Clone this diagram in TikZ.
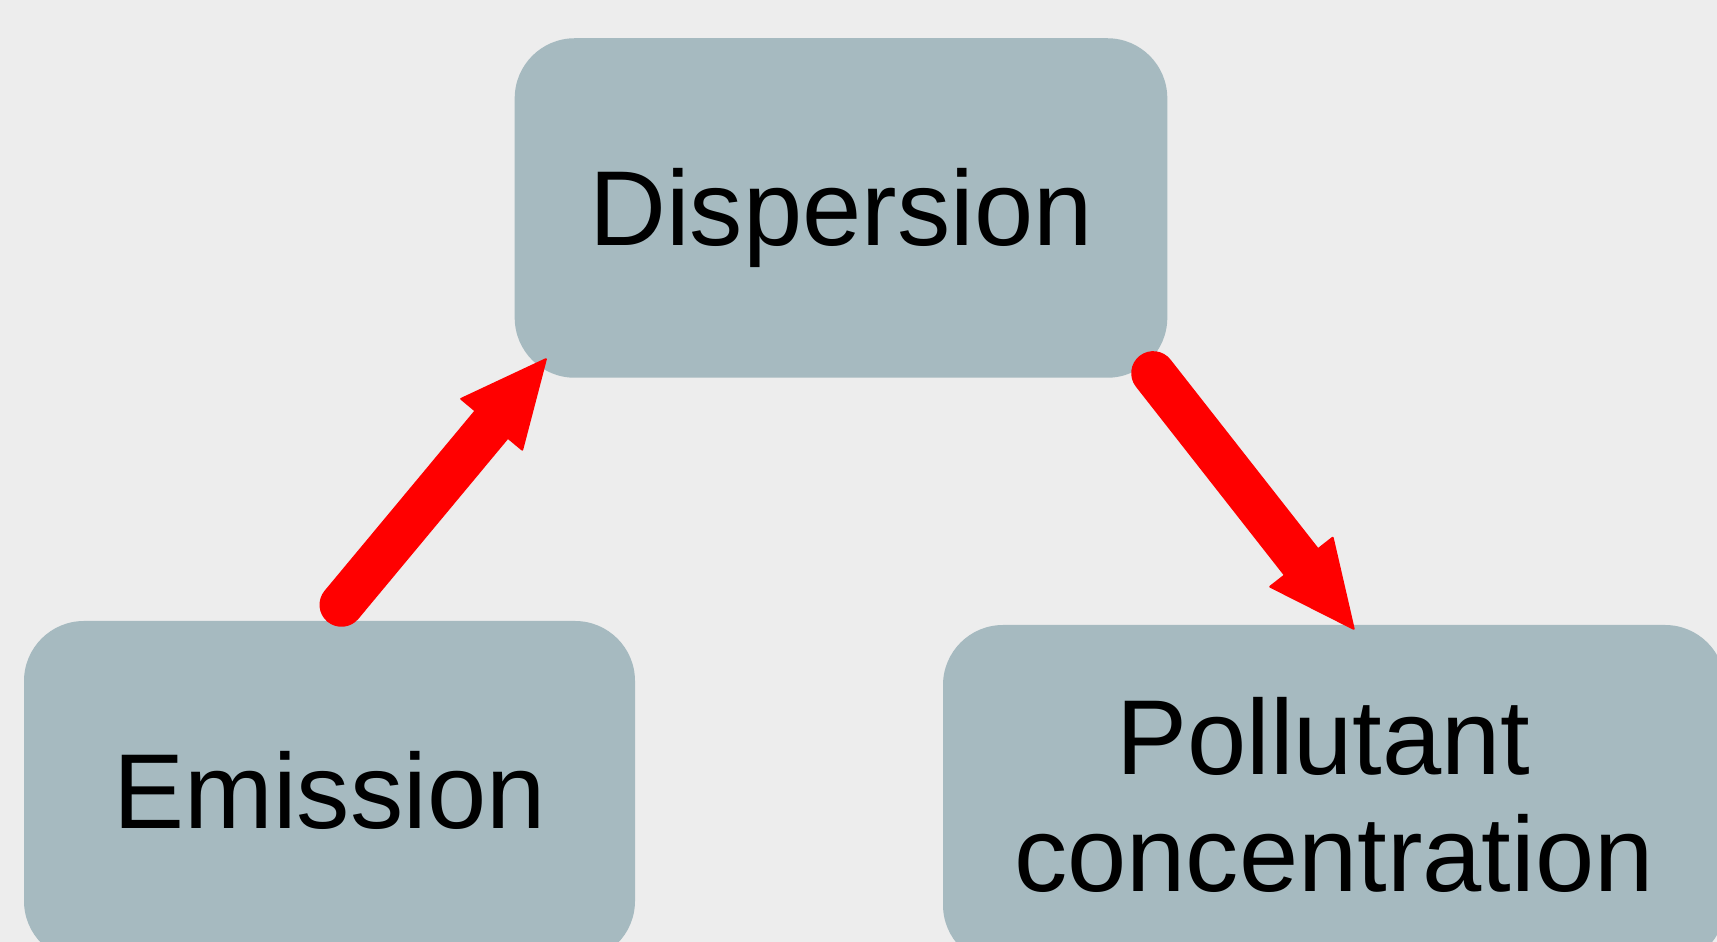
\documentclass[tikz,border=0pt]{standalone}
\usepackage{fontspec}
\setmainfont{Liberation Sans}
\usetikzlibrary{arrows.meta,calc}
\definecolor{bg}{HTML}{EDEDED}
\definecolor{boxc}{HTML}{A6BAC0}
\begin{document}
\begin{tikzpicture}[x=1pt,y=1pt,
  box/.style={fill=boxc, rounded corners=60pt, inner sep=0pt, font=\fontsize{106.5}{117}\selectfont, text=black},
  arr/.style={draw=red, line width=44pt, line cap=round, -{Triangle[length=88pt,width=82pt,line width=2pt,round]}}]
\fill[bg] (0,0) rectangle (1717,942);
\useasboundingbox (0,0) rectangle (1717,942);
\node[box, minimum width=652.6pt, minimum height=339.5pt, text height=76pt, text depth=0pt] (disp) at (841,734) {Dispersion};
\node[box, minimum width=611pt, minimum height=340pt, text height=76pt, text depth=0pt] (emis) at (329.5,151) {Emission};
\node[box, minimum width=782pt, minimum height=340pt, align=center] (poll) at (1334,147) {Pollutant\kern0.2em\\concentration};
\draw[arr] ([shift={(12pt,16pt)}]emis.north) -- ([shift={(32pt,19.5pt)}]disp.south west);
\draw[arr] ([shift={(-14.3pt,4.8pt)}]disp.south east) -- ([shift={(20.3pt,-4.8pt)}]poll.north);
\end{tikzpicture}
\end{document}
